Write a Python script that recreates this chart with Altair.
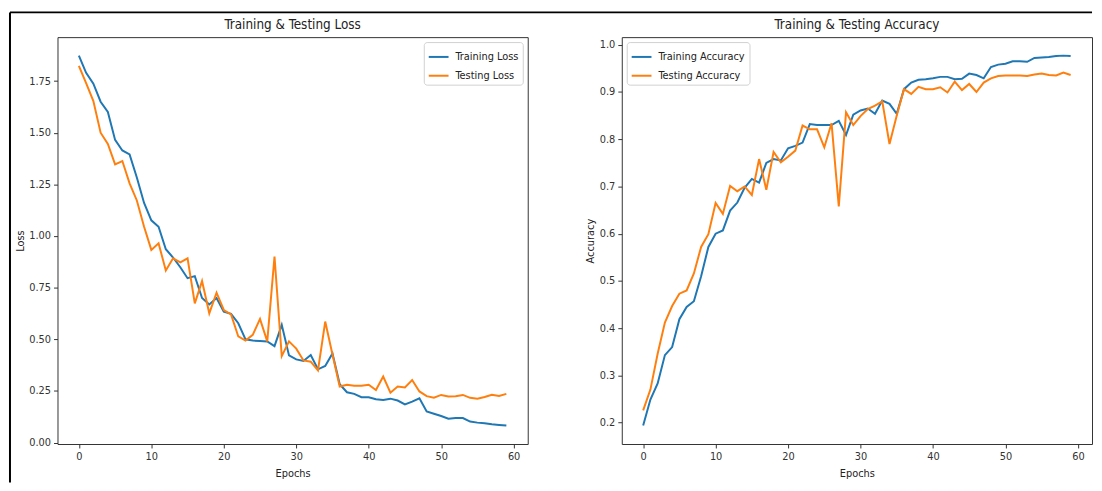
import altair as alt
import pandas as pd

# ---------------- data ----------------
epochs = list(range(60))

train_loss = [1.873, 1.79, 1.737, 1.65, 1.60, 1.465, 1.414, 1.395, 1.283, 1.16,
              1.076, 1.045, 0.936, 0.896, 0.849, 0.796, 0.806, 0.70, 0.669, 0.70,
              0.634, 0.623, 0.578, 0.50, 0.494, 0.492, 0.49, 0.467, 0.57, 0.422,
              0.403, 0.395, 0.424, 0.355, 0.371, 0.432, 0.283, 0.244, 0.236, 0.22,
              0.22, 0.21, 0.207, 0.213, 0.204, 0.185, 0.199, 0.215, 0.151, 0.14,
              0.129, 0.116, 0.119, 0.119, 0.102, 0.097, 0.094, 0.089, 0.086, 0.083]

test_loss = [1.823, 1.74, 1.653, 1.50, 1.446, 1.347, 1.363, 1.255, 1.172, 1.045,
             0.933, 0.965, 0.833, 0.892, 0.873, 0.892, 0.674, 0.782, 0.626, 0.726,
             0.642, 0.621, 0.514, 0.494, 0.522, 0.599, 0.49, 0.901, 0.419, 0.49,
             0.455, 0.398, 0.392, 0.35, 0.586, 0.427, 0.272, 0.28, 0.275, 0.275,
             0.28, 0.255, 0.32, 0.242, 0.272, 0.267, 0.303, 0.248, 0.225, 0.218,
             0.231, 0.223, 0.225, 0.231, 0.217, 0.213, 0.221, 0.232, 0.226, 0.236]

train_acc = [0.194, 0.249, 0.283, 0.343, 0.36, 0.419, 0.445, 0.457, 0.51, 0.572,
             0.60, 0.607, 0.649, 0.666, 0.697, 0.716, 0.708, 0.75, 0.758, 0.755,
             0.781, 0.786, 0.793, 0.832, 0.83, 0.830, 0.83, 0.839, 0.809, 0.852,
             0.861, 0.865, 0.854, 0.882, 0.875, 0.854, 0.906, 0.92, 0.926, 0.927,
             0.929, 0.932, 0.932, 0.927, 0.928, 0.939, 0.936, 0.929, 0.953, 0.958,
             0.96, 0.965, 0.965, 0.964, 0.972, 0.973, 0.974, 0.976, 0.977, 0.976]

test_acc = [0.226, 0.27, 0.346, 0.412, 0.447, 0.473, 0.48, 0.516, 0.572, 0.599,
            0.665, 0.642, 0.701, 0.69, 0.70, 0.682, 0.758, 0.693, 0.773, 0.751,
            0.763, 0.776, 0.829, 0.821, 0.821, 0.783, 0.834, 0.658, 0.857, 0.83,
            0.849, 0.864, 0.871, 0.88, 0.79, 0.85, 0.906, 0.896, 0.911, 0.906,
            0.906, 0.91, 0.899, 0.922, 0.904, 0.917, 0.90, 0.92, 0.929, 0.934,
            0.935, 0.935, 0.935, 0.934, 0.937, 0.939, 0.936, 0.935, 0.941, 0.936]

loss_labels = ["Training Loss", "Testing Loss"]
acc_labels = ["Training Accuracy", "Testing Accuracy"]
line_colors = ["#1f77b4", "#ff7f0e"]

x_ticks = [0, 10, 20, 30, 40, 50, 60]
loss_ticks = [0.0, 0.25, 0.5, 0.75, 1.0, 1.25, 1.5, 1.75]
acc_ticks = [0.2, 0.3, 0.4, 0.5, 0.6, 0.7, 0.8, 0.9, 1.0]

# ---------------- layout ----------------
FONT = "Liberation Sans Narrow, DejaVu Sans Condensed, Liberation Sans, sans-serif"
W, H = 475, 411
GAP = 95


def padded(a, b):
    lo, hi = min(a + b), max(a + b)
    m = (hi - lo) * 0.05
    return [lo - m, hi + m]


def long_df(s1, s2, labels):
    return pd.DataFrame({
        "epoch": epochs + epochs,
        "value": s1 + s2,
        "series": [labels[0]] * len(s1) + [labels[1]] * len(s2),
    })


def panel(df, labels, title, ytitle, ydomain, yticks, yfmt, lorient, extent,
          tpad, border):
    xdom = [epochs[0] - 0.05 * (epochs[-1] - epochs[0]),
            epochs[-1] + 0.05 * (epochs[-1] - epochs[0])]
    x = alt.X("epoch:Q",
              scale=alt.Scale(domain=xdom, nice=False, zero=False),
              axis=alt.Axis(values=x_ticks, format="d", title="Epochs",
                            titlePadding=6))
    y = alt.Y("value:Q",
              scale=alt.Scale(domain=ydomain, nice=False, zero=False),
              axis=alt.Axis(values=yticks, format=yfmt, title=ytitle,
                            minExtent=extent, maxExtent=extent,
                            titlePadding=tpad))
    color = alt.Color("series:N",
                      scale=alt.Scale(domain=labels, range=line_colors),
                      legend=alt.Legend(title=None, orient=lorient, offset=5,
                                        padding=4, symbolType="stroke",
                                        symbolSize=400, symbolStrokeWidth=2,
                                        labelOffset=6, rowPadding=3,
                                        strokeColor="#d0d0d0", cornerRadius=3,
                                        fillColor="white", labelFontSize=11,
                                        labelFont=FONT, labelColor="#222"))
    layers = []
    for lab in labels:
        layers.append(
            alt.Chart(df).transform_filter(alt.datum.series == lab)
            .mark_line(strokeWidth=2, clip=True)
            .encode(x=x, y=y, color=color)
        )
    one = pd.DataFrame({"k": [0]})
    layers.append(
        alt.Chart(one).mark_text(text=title, fontSize=13.5, font=FONT,
                                 baseline="alphabetic", align="center",
                                 color="#222")
        .encode(x=alt.value(W / 2), y=alt.value(-8))
    )
    if border:
        layers.append(
            alt.Chart(one).mark_rule(color="black", strokeWidth=2).encode(
                x=alt.value(-48), x2=alt.value(2 * W + GAP), y=alt.value(-25))
        )
        layers.append(
            alt.Chart(one).mark_rule(color="black", strokeWidth=2).encode(
                x=alt.value(-48), y=alt.value(-25), y2=alt.value(450))
        )
    return alt.layer(*layers).properties(width=W, height=H)


left = panel(long_df(train_loss, test_loss, loss_labels), loss_labels,
             "Training & Testing Loss", "Loss", padded(train_loss, test_loss),
             loss_ticks, ".2f", "top-right", 27, 5, True)
right = panel(long_df(train_acc, test_acc, acc_labels), acc_labels,
              "Training & Testing Accuracy", "Accuracy",
              padded(train_acc, test_acc), acc_ticks, ".1f", "top-left", 23, 4,
              False)

chart = (
    alt.hconcat(left, right, spacing=GAP, bounds="flush")
    .resolve_scale(color="independent")
    .properties(padding=0, background="white")
    .configure_view(stroke="#333", strokeWidth=1)
    .configure_axis(domain=False, grid=False, tickColor="#333", tickSize=4,
                    tickWidth=1, labelPadding=3, labelFontSize=11,
                    titleFontSize=11, labelFont=FONT, titleFont=FONT,
                    labelColor="#333", titleColor="#222",
                    titleFontWeight="normal")
)

chart.save("out.html", embed_options={"renderer": "svg", "actions": False})
